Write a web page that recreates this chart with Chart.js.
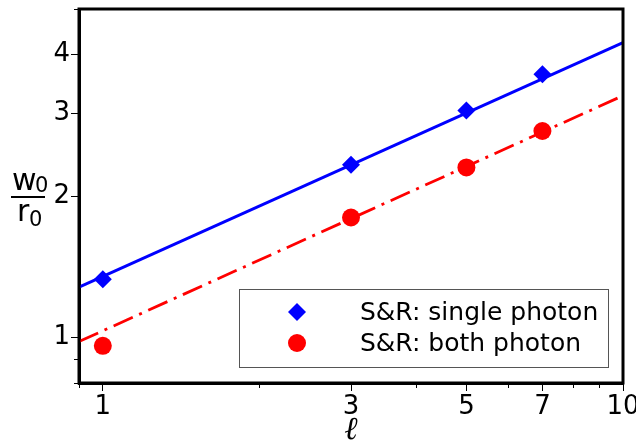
<!DOCTYPE html>
<html>
<head>
<meta charset="utf-8">
<script src="https://cdn.jsdelivr.net/npm/chart.js@4.4.1/dist/chart.umd.min.js"></script>
<style>
    html, body { margin: 0; padding: 0; background: #fff; }
    #wrap { width: 636px; height: 444px; }
</style>
</head>
<body>
<div id="wrap"><canvas id="chart" width="636" height="444"></canvas></div>
<script>
// measured points (log-log plot)
const ellValues = [1, 3, 5, 7];
const singlePhoton = [1.33, 2.33, 3.04, 3.63];
const bothPhoton = [0.96, 1.80, 2.30, 2.75];

// fitted lines, read at the two ends of the plot
const fitEll = [0.9, 10];
const singleFit = [1.28, 4.24];
const bothFit = [0.98, 3.27];

// ticks: labelled (long) and minor (short)
const xTickLabels = [1, 3, 5, 7, 10];
const xMinorTicks = [0.9, 2, 4, 6, 8, 9];
const yTickLabels = [1, 2, 3, 4];
const yMinorTicks = [0.8, 0.9, 5];

const seriesLabels = ['S&R: single photon', 'S&R: both photon'];

const BLUE = '#0000ff';
const RED = '#ff0000';
const TICK_FONT = { family: 'DejaVu Sans', size: 26 };

function toPoints(xs, ys) {
    return xs.map((x, i) => ({ x: x, y: ys[i] }));
}

// minor ticks, frame, y-axis fraction label and the boxed legend
const decorPlugin = {
    id: 'decor',
    afterDatasetsDraw(chart) {
        const ctx = chart.ctx;
        const a = chart.chartArea;
        const xs = chart.scales.x;
        const ys = chart.scales.y;
        ctx.save();

        // short minor ticks
        ctx.strokeStyle = '#000';
        ctx.lineWidth = 1;
        ctx.beginPath();
        xMinorTicks.forEach(v => {
            const px = Math.round(xs.getPixelForValue(v)) + 0.5;
            ctx.moveTo(px, a.bottom);
            ctx.lineTo(px, a.bottom + 5);
        });
        yMinorTicks.forEach(v => {
            const py = Math.round(ys.getPixelForValue(v)) + 0.5;
            ctx.moveTo(a.left, py);
            ctx.lineTo(a.left - 5, py);
        });
        ctx.stroke();

        // full black frame round the plot
        ctx.lineWidth = 3;
        ctx.strokeRect(a.left, a.top, a.right - a.left, a.bottom - a.top);

        // y label: w0 / r0
        ctx.fillStyle = '#000';
        ctx.textBaseline = 'alphabetic';
        ctx.textAlign = 'left';
        ctx.font = '30px "DejaVu Sans"';
        ctx.fillText('w', 12, 190);
        ctx.fillText('r', 17, 221);
        ctx.font = '21px "DejaVu Sans"';
        ctx.fillText('0', 35, 192);
        ctx.fillText('0', 29, 226);
        ctx.fillRect(11, 196, 34, 2);

        // legend box
        const lx = 239, ly = 289, lw = 369, lh = 78;
        ctx.fillStyle = '#fff';
        ctx.fillRect(lx, ly, lw, lh);
        ctx.strokeStyle = '#555';
        ctx.lineWidth = 1;
        ctx.strokeRect(lx + 0.5, ly + 0.5, lw, lh);

        const rows = [312, 343];
        chart.data.datasets.slice(0, 2).forEach((ds, i) => {
            const cy = rows[i];
            const cx = 297;
            const r = ds.pointRadius;
            ctx.fillStyle = ds.backgroundColor;
            ctx.beginPath();
            if (ds.pointStyle === 'rectRot') {
                ctx.moveTo(cx, cy - r);
                ctx.lineTo(cx + r, cy);
                ctx.lineTo(cx, cy + r);
                ctx.lineTo(cx - r, cy);
                ctx.closePath();
            } else {
                ctx.arc(cx, cy, r, 0, Math.PI * 2);
            }
            ctx.fill();
            ctx.fillStyle = '#000';
            ctx.font = '25px "DejaVu Sans"';
            ctx.textBaseline = 'middle';
            ctx.fillText(ds.label, 360, cy + 1);
        });
        ctx.restore();
    }
};

const chart = new Chart(document.getElementById('chart').getContext('2d'), {
    type: 'scatter',
    data: {
        datasets: [
            {
                label: seriesLabels[0],
                data: toPoints(ellValues, singlePhoton),
                pointStyle: 'rectRot',
                pointRadius: 9,
                backgroundColor: BLUE,
                borderColor: BLUE,
                borderWidth: 0,
                showLine: false,
                order: 0
            },
            {
                label: seriesLabels[1],
                data: toPoints(ellValues, bothPhoton),
                pointStyle: 'circle',
                pointRadius: 9,
                backgroundColor: RED,
                borderColor: RED,
                borderWidth: 0,
                showLine: false,
                order: 0
            },
            {
                label: 'single fit',
                data: toPoints(fitEll, singleFit),
                showLine: true,
                borderColor: BLUE,
                borderWidth: 3,
                pointRadius: 0,
                order: 1
            },
            {
                label: 'both fit',
                data: toPoints(fitEll, bothFit),
                showLine: true,
                borderColor: RED,
                borderWidth: 2.8,
                borderDash: [21, 7, 3, 7],
                pointRadius: 0,
                order: 1
            }
        ]
    },
    options: {
        responsive: false,
        animation: false,
        layout: {
            padding: { left: 0, right: 13, top: 9, bottom: 0 }
        },
        scales: {
            x: {
                type: 'logarithmic',
                min: 0.9,
                max: 10,
                afterBuildTicks: (scale) => {
                    scale.ticks = xTickLabels.map(v => ({ value: v }));
                },
                afterFit: (scale) => {
                    scale.height = 61;
                    scale.paddingLeft = 0;
                    scale.paddingRight = 0;
                },
                ticks: {
                    autoSkip: false,
                    maxRotation: 0,
                    color: '#000',
                    font: TICK_FONT,
                    padding: 1,
                    callback: (value) => String(value)
                },
                grid: {
                    drawOnChartArea: false,
                    drawTicks: true,
                    tickLength: 8,
                    color: '#000',
                    lineWidth: 1
                },
                border: { display: true, color: '#000', width: 3 },
                title: {
                    display: true,
                    text: 'ℓ',
                    color: '#000',
                    font: { family: 'DejaVu Serif', style: 'italic', size: 32 },
                    padding: { top: 0, bottom: -6 }
                }
            },
            y: {
                type: 'logarithmic',
                min: 0.8,
                max: 5,
                afterBuildTicks: (scale) => {
                    scale.ticks = yTickLabels.map(v => ({ value: v }));
                },
                afterFit: (scale) => {
                    scale.width = 79;
                    scale.paddingTop = 0;
                    scale.paddingBottom = 0;
                },
                ticks: {
                    autoSkip: false,
                    color: '#000',
                    font: TICK_FONT,
                    padding: 1,
                    callback: (value) => String(value)
                },
                grid: {
                    drawOnChartArea: false,
                    drawTicks: true,
                    tickLength: 8,
                    color: '#000',
                    lineWidth: 1
                },
                border: { display: true, color: '#000', width: 3 }
            }
        },
        plugins: {
            legend: { display: false },
            tooltip: { enabled: false }
        }
    },
    plugins: [decorPlugin]
});
</script>
</body>
</html>
